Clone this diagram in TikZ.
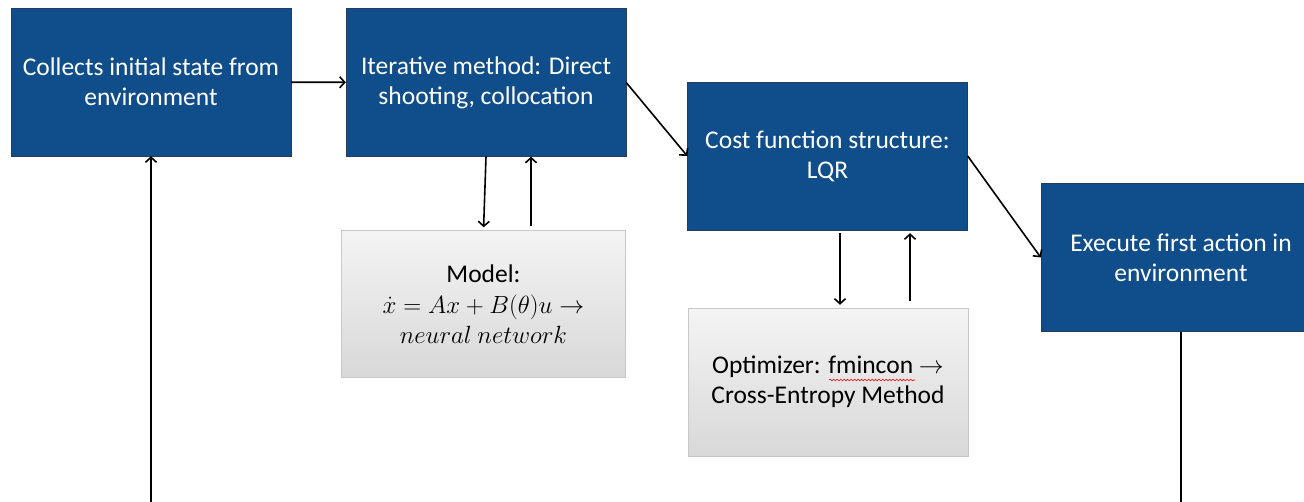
\documentclass[tikz,border=0pt]{standalone}
\usepackage{fontspec}
\setmainfont{Carlito}
\usetikzlibrary{arrows.meta,positioning,decorations.pathmorphing}
\definecolor{stepBlue}{RGB}{15,77,139}
\definecolor{stepEdge}{RGB}{38,60,92}
\definecolor{modelTop}{RGB}{244,244,244}
\definecolor{modelBot}{RGB}{216,216,216}
\definecolor{modelEdge}{RGB}{200,200,200}
\begin{document}
\begin{tikzpicture}[x=1pt, y=-1pt,
  every node/.style={font=\fontsize{25.5}{30}\selectfont},
  bluebox/.style={draw=stepEdge, fill=stepBlue, text=white, align=center,
    minimum width=280pt, minimum height=148pt, inner sep=0pt},
  graybox/.style={draw=modelEdge, top color=modelTop, bottom color=modelBot,
    align=center, minimum width=284pt, minimum height=147pt, inner sep=0pt},
  flow/.style={-{Straight Barb[length=5pt, width=11pt]}, line width=1.6pt}]
  \clip (0,0) rectangle (1304,501);
  % Main chain
  \node[bluebox] (collect) at (151,82) {Collects initial state from\\environment};
  \node[bluebox] (iter) at (486,82.5) {Iterative method: Direct\\shooting, collocation};
  \node[bluebox] (cost) at (827.5,156) {Cost function structure:\\LQR};
  \node[bluebox] (exec) at (1181,257.5) {Execute first action in\\environment};
  % Sub-blocks
  \node[graybox] (model) at (483.5,304) {Model:\\[1pt]$\dot{x}=Ax+B(\theta)u\rightarrow$\\$neural\ network$};
  \node[graybox, minimum width=280pt, minimum height=148pt] (optim) at (828,382)
    {Optimizer: fmincon $\rightarrow$\\Cross-Entropy Method};
  \draw[red, line width=0.6pt, decorate, decoration={snake, amplitude=0.9pt, segment length=3.5pt}]
    (829,380) -- (915,380);
  % Loop ends
  \coordinate (collectIn) at (151,505);
  \coordinate (execOut) at (1181,505);
  % Arrows
  \draw[flow] (collect) -- (iter);
  \draw[flow] (iter.east) -- (cost.west);
  \draw[flow] (cost.east) -- (exec.west);
  \draw[flow, shorten >=3pt] (iter.south) -- (model.north);
  \draw[flow, shorten <=4pt] ([xshift=47.5pt]model.north) -- ([xshift=47.5pt]model.north |- iter.south);
  \draw[flow, shorten <=3pt, shorten >=3pt] ([xshift=12.5pt]cost.south) -- ([xshift=12.5pt]cost.south |- optim.north);
  \draw[flow, shorten <=7pt, shorten >=3pt] ([xshift=82.5pt]cost.south |- optim.north) -- ([xshift=82.5pt]cost.south);
  \draw[line width=1.6pt] (exec.south) -- (execOut);
  \draw[flow] (collectIn) -- (collect.south);
\end{tikzpicture}
\end{document}
